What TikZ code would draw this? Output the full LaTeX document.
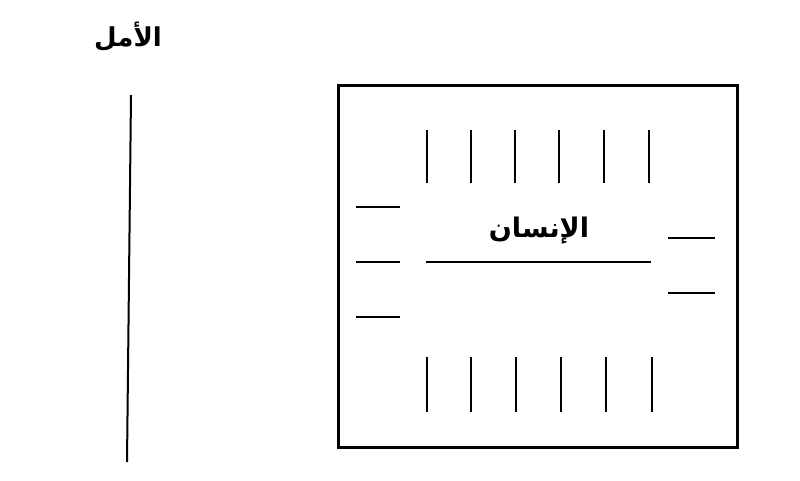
\documentclass[tikz,border=0pt]{standalone}
\usepackage{fontspec}
\TeXXeTstate=1
\newfontfamily\arabicfont[Script=Arabic]{DejaVu Sans}
\tikzset{
  tick/.style={line width=2pt},
  frame/.style={line width=3pt},
  lbl/.style={font=\arabicfont\bfseries\fontsize{27}{31}\selectfont, inner sep=0pt}
}
\begin{document}
\begin{tikzpicture}[x=1pt,y=-1pt]
\useasboundingbox (0,0) rectangle (800,480);
% title and axis line
\node[lbl, font=\arabicfont\bfseries\fontsize{26}{30}\selectfont] (hope) at (128,37) {\beginR الأمل\endR};
\coordinate (vtop) at (131,95);
\coordinate (vbot) at (127,462);
\draw[tick] (vtop) -- (vbot);
% frame
\node[frame, draw, minimum width=399pt, minimum height=362pt, inner sep=0pt] (box) at (538,266) {};
% central label
\node[lbl] (human) at (539,231) {\beginR الإنسان\endR};
\coordinate (cl) at (426,262);
\coordinate (cr) at (651,262);
\draw[tick] (cl) -- (cr);
% top ticks
\foreach \x [count=\i] in {427,471,515,559,604,649}{
  \coordinate (t\i a) at (\x,130);
  \coordinate (t\i b) at (\x,183);
  \draw[tick] (t\i a) -- (t\i b);
}
% bottom ticks
\foreach \x [count=\i] in {427,471,516,561,606,652}{
  \coordinate (b\i a) at (\x,357);
  \coordinate (b\i b) at (\x,412);
  \draw[tick] (b\i a) -- (b\i b);
}
% left dashes
\foreach \y [count=\i] in {207,262,317}{
  \coordinate (l\i a) at (356,\y);
  \coordinate (l\i b) at (400,\y);
  \draw[tick] (l\i a) -- (l\i b);
}
% right dashes
\foreach \y [count=\i] in {238,293}{
  \coordinate (r\i a) at (668,\y);
  \coordinate (r\i b) at (715,\y);
  \draw[tick] (r\i a) -- (r\i b);
}
\end{tikzpicture}
\end{document}
